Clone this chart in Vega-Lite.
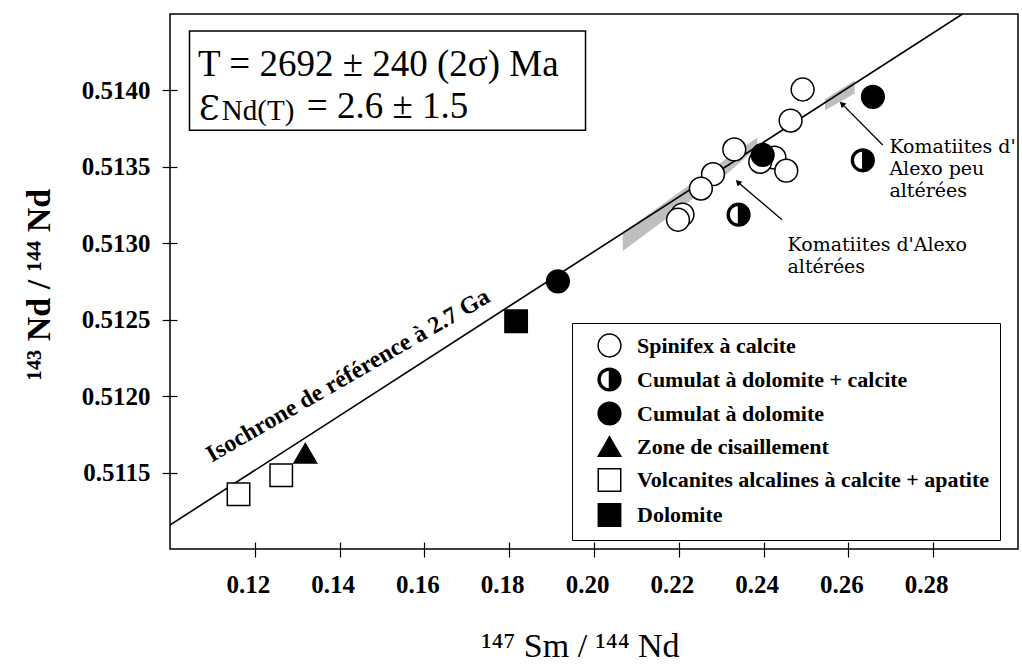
{
  "$schema": "https://vega.github.io/schema/vega-lite/v6.json",
  "width": 848,
  "height": 535,
  "autosize": {"type": "none"},
  "padding": {"left": 170, "top": 14, "right": 4, "bottom": 115},
  "background": "white",
  "config": {"view": {"stroke": "black", "strokeWidth": 1.5}, "font": "Liberation Serif"},
  "encoding": {
    "x": {
      "field": "x", "type": "quantitative",
      "scale": {"domain": [0.10, 0.30], "nice": false, "zero": false},
      "axis": {
        "values": [0.12, 0.14, 0.16, 0.18, 0.20, 0.22, 0.24, 0.26, 0.28],
        "format": ".2f", "grid": false, "domain": false, "offset": -7,
        "tickSize": 15, "tickColor": "black", "tickWidth": 1.2,
        "labelFont": "Liberation Serif", "labelFontSize": 25, "labelFontWeight": "bold",
        "labelColor": "black", "labelPadding": 15, "labelOffset": -7,
        "title": "¹⁴⁷ Sm / ¹⁴⁴ Nd", "titleFont": "Liberation Serif", "titleFontSize": 34,
        "titleFontWeight": "normal", "titleColor": "black", "titleX": 410, "titleY": 114,
        "titleAlign": "center", "titleBaseline": "alphabetic"
      }
    },
    "y": {
      "field": "y", "type": "quantitative",
      "scale": {"domain": [0.5110, 0.5145], "nice": false, "zero": false},
      "axis": {
        "values": [0.5115, 0.512, 0.5125, 0.513, 0.5135, 0.514],
        "format": ".4f", "grid": false, "domain": false, "offset": -7,
        "tickSize": 15, "tickColor": "black", "tickWidth": 1.2,
        "labelFont": "Liberation Serif", "labelFontSize": 25, "labelFontWeight": "bold",
        "labelColor": "black", "labelPadding": 12,
        "title": "¹⁴³ Nd / ¹⁴⁴ Nd", "titleFont": "Liberation Serif", "titleFontSize": 34,
        "titleFontWeight": "bold", "titleColor": "black", "titleAngle": -90,
        "titleX": -138, "titleY": 270, "titleAlign": "center", "titleBaseline": "middle"
      }
    }
  },
  "layer": [
    {
      "data": {"values": [{"x": 0.1046, "x2": 0.1980, "y": 0.514388, "y2": 0.51374}]},
      "mark": {"type": "rect", "fill": "white", "stroke": "black", "strokeWidth": 1.5},
      "encoding": {"x2": {"field": "x2"}, "y2": {"field": "y2"}}
    },
    {
      "data": {"values": [
        {"patch": "a", "x": 0.2068, "y": 0.51307, "y2": 0.51295},
        {"patch": "a", "x": 0.2320, "y": 0.51357, "y2": 0.51347},
        {"patch": "a", "x": 0.2385, "y": 0.51369, "y2": 0.51363},
        {"patch": "b", "x": 0.2545, "y": 0.513942, "y2": 0.51387},
        {"patch": "b", "x": 0.2615, "y": 0.514067, "y2": 0.51398}
      ]},
      "mark": {"type": "area", "color": "#b3b3b3", "opacity": 0.85},
      "encoding": {"y2": {"field": "y2"}, "detail": {"field": "patch"}}
    },
    {
      "data": {"values": [{"x": 0.10, "y": 0.511157}, {"x": 0.2869, "y": 0.5145}]},
      "mark": {"type": "line", "color": "black", "strokeWidth": 1.6, "clip": true},
      "encoding": {}
    },
    {
      "data": {"values": [
        {"x": 0.24434, "y": 0.513154, "x2": 0.23394, "y2": 0.5134},
        {"x": 0.2681, "y": 0.513643, "x2": 0.25849, "y2": 0.513912}
      ]},
      "mark": {"type": "rule", "color": "black", "strokeWidth": 1.3},
      "encoding": {"x2": {"field": "x2"}, "y2": {"field": "y2"}}
    },
    {
      "data": {"values": [
        {"x": 0.23394, "y": 0.5134},
        {"x": 0.25849, "y": 0.513912}
      ]},
      "mark": {"type": "point", "shape": "triangle-up", "angle": -46, "size": 45, "filled": true, "color": "black", "opacity": 1},
      "encoding": {}
    },
    {
      "data": {"values": [
        {"type": "Spinifex à calcite", "x": 0.2492, "y": 0.514006},
        {"type": "Spinifex à calcite", "x": 0.24637, "y": 0.513803},
        {"type": "Spinifex à calcite", "x": 0.23309, "y": 0.513614},
        {"type": "Spinifex à calcite", "x": 0.24255, "y": 0.513561},
        {"type": "Spinifex à calcite", "x": 0.24535, "y": 0.513475},
        {"type": "Spinifex à calcite", "x": 0.2392, "y": 0.513533},
        {"type": "Spinifex à calcite", "x": 0.22807, "y": 0.513452},
        {"type": "Spinifex à calcite", "x": 0.22521, "y": 0.513358},
        {"type": "Spinifex à calcite", "x": 0.22087, "y": 0.513188},
        {"type": "Spinifex à calcite", "x": 0.21981, "y": 0.513154},
        {"type": "Cumulat à dolomite + calcite", "x": 0.2634, "y": 0.513543},
        {"type": "Cumulat à dolomite + calcite", "x": 0.2341, "y": 0.513187},
        {"type": "Cumulat à dolomite", "x": 0.23979, "y": 0.513578},
        {"type": "Cumulat à dolomite", "x": 0.26578, "y": 0.513958},
        {"type": "Cumulat à dolomite", "x": 0.19149, "y": 0.512751},
        {"type": "Zone de cisaillement", "x": 0.13191, "y": 0.511626},
        {"type": "Volcanites alcalines à calcite + apatite", "x": 0.11616, "y": 0.511358},
        {"type": "Volcanites alcalines à calcite + apatite", "x": 0.12623, "y": 0.511482},
        {"type": "Dolomite", "x": 0.18163, "y": 0.51249}
      ]},
      "mark": {"type": "point", "stroke": "black", "strokeWidth": 1.5, "opacity": 1},
      "encoding": {
        "shape": {
          "field": "type", "type": "nominal",
          "scale": {
            "domain": ["Spinifex à calcite", "Cumulat à dolomite + calcite", "Cumulat à dolomite", "Zone de cisaillement", "Volcanites alcalines à calcite + apatite", "Dolomite"],
            "range": ["circle", "M0,-1A1,1,0,0,1,0,1Z M0,-1A1,1,0,0,0,0,1L0,0.84A0.84,0.84,0,0,1,0,-0.84Z", "circle", "triangle-up", "square", "square"]
          },
          "legend": {
            "title": null, "orient": "none", "legendX": 402, "legendY": 309,
            "padding": 10, "strokeColor": "black", "fillColor": "white",
            "labelFont": "Liberation Serif", "labelFontSize": 22, "labelFontWeight": "bold",
            "labelColor": "black", "labelLimit": 600, "symbolOffset": 15, "labelOffset": 15,
            "rowPadding": 5, "symbolStrokeColor": "black", "symbolStrokeWidth": 1.5
          }
        },
        "fill": {
          "field": "type", "type": "nominal",
          "scale": {
            "domain": ["Spinifex à calcite", "Cumulat à dolomite + calcite", "Cumulat à dolomite", "Zone de cisaillement", "Volcanites alcalines à calcite + apatite", "Dolomite"],
            "range": ["white", "black", "black", "black", "white", "black"]
          }
        },
        "size": {
          "field": "type", "type": "nominal",
          "scale": {
            "domain": ["Spinifex à calcite", "Cumulat à dolomite + calcite", "Cumulat à dolomite", "Zone de cisaillement", "Volcanites alcalines à calcite + apatite", "Dolomite"],
            "range": [520, 500, 500, 560, 420, 430]
          }
        }
      }
    },
    {
      "data": {"values": [
        {"x": 0.10663, "y": 0.514095, "t": "T = 2692 ± 240 (2σ) Ma"},
        {"x": 0.13226, "y": 0.513818, "t": "= 2.6 ± 1.5"}
      ]},
      "mark": {"type": "text", "align": "left", "baseline": "alphabetic", "font": "Liberation Serif", "fontSize": 37, "color": "black"},
      "encoding": {"text": {"field": "t"}}
    },
    {
      "data": {"values": [{"x": 0.10679, "y": 0.513807, "t": "Ɛ"}]},
      "mark": {"type": "text", "align": "left", "baseline": "alphabetic", "font": "DejaVu Serif", "fontSize": 34, "color": "black"},
      "encoding": {"text": {"field": "t"}}
    },
    {
      "data": {"values": [{"x": 0.11222, "y": 0.513809, "t": "Nd(T)"}]},
      "mark": {"type": "text", "align": "left", "baseline": "alphabetic", "font": "Liberation Serif", "fontSize": 29, "color": "black"},
      "encoding": {"text": {"field": "t"}}
    },
    {
      "data": {"values": [{"x": 0.10984, "y": 0.511565, "t": "Isochrone de référence à 2.7 Ga"}]},
      "mark": {"type": "text", "align": "left", "baseline": "alphabetic", "angle": -30, "font": "Liberation Serif", "fontSize": 24, "fontWeight": "bold", "color": "black"},
      "encoding": {"text": {"field": "t"}}
    },
    {
      "data": {"values": [
        {"x": 0.24564, "y": 0.512947, "t": "Komatiites d'Alexo\naltérées"},
        {"x": 0.26967, "y": 0.513591, "t": "Komatiites d'\nAlexo peu\naltérées"}
      ]},
      "mark": {"type": "text", "align": "left", "baseline": "alphabetic", "font": "DejaVu Serif", "fontSize": 19, "lineBreak": "\n", "lineHeight": 22, "color": "black"},
      "encoding": {"text": {"field": "t"}}
    }
  ]
}
